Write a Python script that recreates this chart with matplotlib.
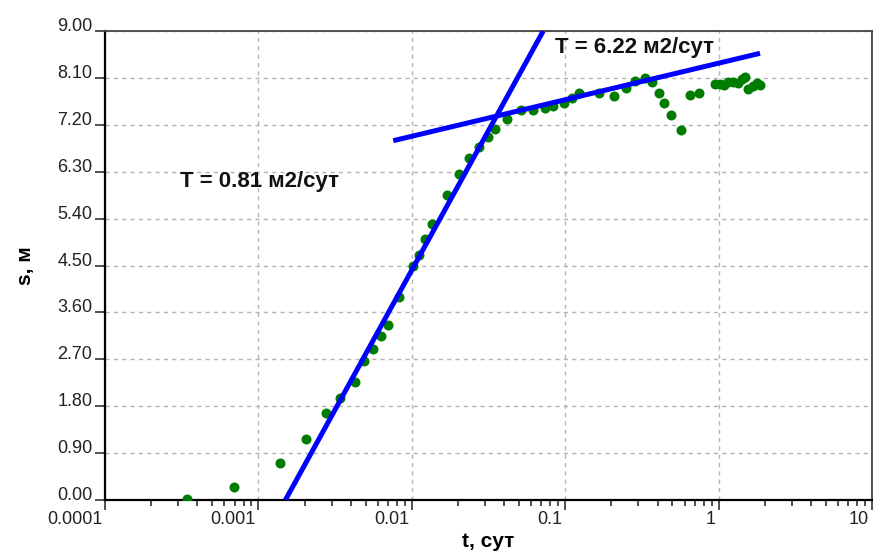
import matplotlib
matplotlib.use('Agg')
import matplotlib.pyplot as plt
import matplotlib.transforms as mtrans
import numpy as np

plt.rcParams['font.family'] = ['Liberation Sans', 'DejaVu Sans']

# measured drawdown data: time (days), drawdown (m)
t_days = [0.000342, 0.000697, 0.001393, 0.002043, 0.002747, 0.003402, 0.004243,
          0.004858, 0.005588, 0.00627, 0.006966, 0.00829, 0.01023, 0.01109,
          0.01225, 0.01354, 0.01703, 0.02031, 0.0236, 0.0273, 0.03125, 0.0347,
          0.04156, 0.05151, 0.06194, 0.07352, 0.0829, 0.0982, 0.1113, 0.1225,
          0.1654, 0.208, 0.248, 0.2838, 0.3289, 0.3681, 0.4058, 0.4426, 0.4872,
          0.5712, 0.6512, 0.7419, 0.9517, 1.021, 1.084, 1.157, 1.247, 1.345,
          1.415, 1.494, 1.555, 1.669, 1.772, 1.862]
s_m = [0.02, 0.255, 0.716, 1.165, 1.67, 1.957, 2.259, 2.662, 2.892, 3.141, 3.358,
       3.905, 4.496, 4.707, 5.014, 5.302, 5.853, 6.256, 6.557, 6.768, 6.96, 7.114,
       7.306, 7.478, 7.49, 7.523, 7.561, 7.613, 7.709, 7.816, 7.816, 7.753, 7.906,
       8.035, 8.098, 8.025, 7.805, 7.613, 7.394, 7.1, 7.778, 7.805, 7.983, 7.977,
       7.97, 8.016, 8.027, 7.997, 8.073, 8.123, 7.887, 7.945, 7.997, 7.958]

# straight-line fits (semi-log)
fit1_t = [0.0015, 0.0719]
fit1_s = [0.0, 9.0]
fit2_t = [0.00757, 1.862]
fit2_s = [6.895, 8.572]

label1 = 'T = 0.81 м2/сут'
label1_pos = (0.000308, 6.0)
label2 = 'T = 6.22 м2/сут'
label2_pos = (0.0858, 8.58)

x_ticks = [0.0001, 0.001, 0.01, 0.1, 1, 10]
x_tick_labels = ['0.0001', '0.001', '0.01', '0.1', '1', '10']
y_ticks = [0.0, 0.9, 1.8, 2.7, 3.6, 4.5, 5.4, 6.3, 7.2, 8.1, 9.0]

fig = plt.figure(figsize=(8.73, 5.54), dpi=100)
ax = fig.add_axes([105/873, 54/554, 767/873, 469/554])

ax.plot(t_days, s_m, 'o', color='#007d00', markersize=7.2, markeredgewidth=0, zorder=3)
ax.plot(fit1_t, fit1_s, color='#0000ff', lw=3.6, solid_capstyle='butt', zorder=4)
ax.plot(fit2_t, fit2_s, color='#0000ff', lw=3.6, solid_capstyle='butt', zorder=4)

ax.text(label1_pos[0], label1_pos[1], label1, fontsize=16, fontweight='bold',
        va='baseline', ha='left', color='#111111')
ax.text(label2_pos[0], label2_pos[1], label2, fontsize=16, fontweight='bold',
        va='baseline', ha='left', color='#111111')

ax.set_xscale('log')
ax.set_xlim(1e-4, 10)
ax.set_ylim(0, 9)
ax.set_xticks(x_ticks)
ax.set_xticklabels(x_tick_labels)
ax.set_yticks(y_ticks)
ax.set_yticklabels(['%.2f' % v for v in y_ticks])

ax.grid(True, which='major', color='#b4b4b4', linestyle=(0, (3, 3)), lw=1)
ax.set_axisbelow(True)

ax.tick_params(axis='both', which='major', direction='out', length=7, width=1.2,
               labelsize=13, labelcolor='#222222', color='#333333')
ax.tick_params(axis='x', which='minor', direction='out', length=4, width=1.2, color='#333333')
ax.tick_params(axis='y', pad=2)
ax.tick_params(axis='x', pad=1)

for lab in ax.get_yticklabels():
    lab.set_verticalalignment('baseline')
shift = mtrans.ScaledTranslation(-2/72, 0, fig.dpi_scale_trans)
for lab in ax.get_xticklabels():
    lab.set_horizontalalignment('right')
    lab.set_transform(lab.get_transform() + shift)

for side in ['left', 'bottom']:
    ax.spines[side].set_linewidth(1.6)
    ax.spines[side].set_color('black')
for side in ['top', 'right']:
    ax.spines[side].set_linewidth(1.3)
    ax.spines[side].set_color('#444444')

ax.set_xlabel('t, сут', fontsize=15, fontweight='bold', labelpad=3)
ax.set_ylabel('s, м', fontsize=15, fontweight='bold', labelpad=16)

fig.savefig('out.png', dpi=100)
